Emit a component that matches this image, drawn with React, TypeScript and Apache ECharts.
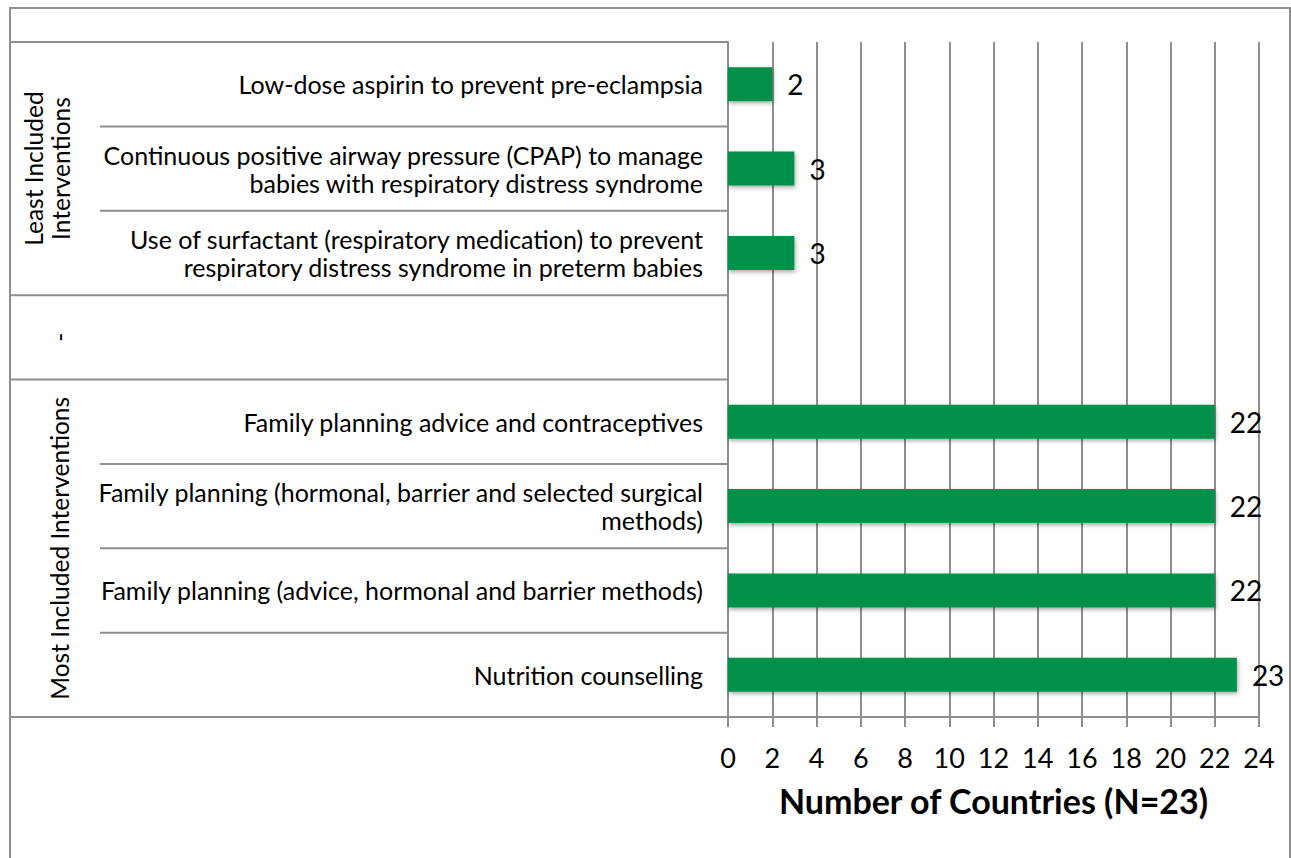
import React, { useEffect, useRef } from "react";
import * as echarts from "echarts";

const categories = [
  "Low-dose aspirin to prevent pre-eclampsia",
  "Continuous positive airway pressure (CPAP) to manage\nbabies with respiratory distress syndrome",
  "Use of surfactant (respiratory medication) to prevent\nrespiratory distress syndrome in preterm babies",
  "",
  "Family planning advice and contraceptives",
  "Family planning (hormonal, barrier and selected surgical\nmethods)",
  "Family planning (advice, hormonal and barrier methods)",
  "Nutrition counselling",
];
const values: (number | string)[] = [2, 3, 3, "-", 22, 22, 22, 23];
const groupLabels = ["Least Included\nInterventions", "-", "Most Included Interventions"];
const groupStart = [0, 3, 4];
const groupEnd = [2, 3, 7];
const xMin = 0;
const xMax = 24;
const xInterval = 2;
const xName = "Number of Countries (N=23)";

const FONT = "Lato";
const GRID = "#8e8e8e";

export default function App() {
  const ref = useRef<HTMLDivElement>(null);
  useEffect(() => {
    document.body.style.margin = "0";
    const chart = echarts.init(ref.current!, null, { renderer: "svg" });
    chart.setOption({
      animation: false,
      textStyle: { fontFamily: FONT },
      grid: { left: 728, right: 32, top: 42, bottom: 141, containLabel: false },
      xAxis: {
        type: "value",
        min: xMin,
        max: xMax,
        interval: xInterval,
        axisLine: { show: true, lineStyle: { color: GRID, width: 2 } },
        axisTick: { show: true, length: 10, lineStyle: { color: GRID, width: 2 } },
        splitLine: { show: true, lineStyle: { color: GRID, width: 2 } },
        axisLabel: { fontSize: 27, color: "#000", margin: 27, fontFamily: FONT },
        name: xName,
        nameLocation: "middle",
        nameGap: 66,
        nameTextStyle: { fontSize: 34, fontWeight: "bold", color: "#000", fontFamily: FONT },
      },
      yAxis: {
        type: "category",
        inverse: true,
        data: categories,
        axisLine: { show: true, lineStyle: { color: GRID, width: 2 } },
        axisTick: { show: false },
        splitLine: { show: false },
        axisLabel: {
          fontSize: 25,
          lineHeight: 28,
          color: "#000",
          margin: 25,
          fontFamily: FONT,
          align: "right",
        },
      },
      series: [
        {
          type: "bar",
          data: values,
          barWidth: 34,
          itemStyle: {
            color: "#00904a",
            shadowColor: "rgba(0,0,0,0.35)",
            shadowBlur: 4,
            shadowOffsetX: 1,
            shadowOffsetY: 2,
          },
          label: {
            show: true,
            position: "right",
            distance: 15,
            fontSize: 28,
            color: "#000",
            fontFamily: FONT,
          },
        },
      ],
    });

    const c0 = chart.convertToPixel({ yAxisIndex: 0 }, 0) as number;
    const c1 = chart.convertToPixel({ yAxisIndex: 0 }, 1) as number;
    const band = c1 - c0;
    const top = c0 - band / 2;
    const axisX = chart.convertToPixel({ xAxisIndex: 0 }, xMin) as number;
    const groupBounds = new Set<number>();
    groupStart.forEach((s) => groupBounds.add(s));
    groupEnd.forEach((e) => groupBounds.add(e + 1));
    const graphics: any[] = [
      {
        type: "rect",
        shape: { x: 10, y: 8, width: 1280, height: 870 },
        style: { fill: "none", stroke: GRID, lineWidth: 2 },
        silent: true,
      },
    ];
    for (let i = 0; i <= categories.length; i++) {
      const y = top + i * band;
      graphics.push({
        type: "line",
        shape: { x1: groupBounds.has(i) ? 10 : 100, y1: y, x2: axisX, y2: y },
        style: { stroke: GRID, lineWidth: 2 },
        silent: true,
      });
    }
    groupLabels.forEach((g, k) => {
      const yMid = top + ((groupStart[k] + groupEnd[k] + 1) / 2) * band;
      const twoLines = g.indexOf("\n") >= 0;
      graphics.push({
        type: "text",
        x: twoLines ? 47 : 59,
        y: yMid,
        rotation: Math.PI / 2,
        style: {
          text: g,
          fontSize: 24.5,
          lineHeight: 27,
          fontFamily: FONT,
          fill: "#000",
          align: "center",
          verticalAlign: "middle",
        },
        silent: true,
      });
    });
    chart.setOption({ graphic: graphics });
    return () => chart.dispose();
  }, []);
  return <div ref={ref} style={{ width: 1291, height: 858 }} />;
}
